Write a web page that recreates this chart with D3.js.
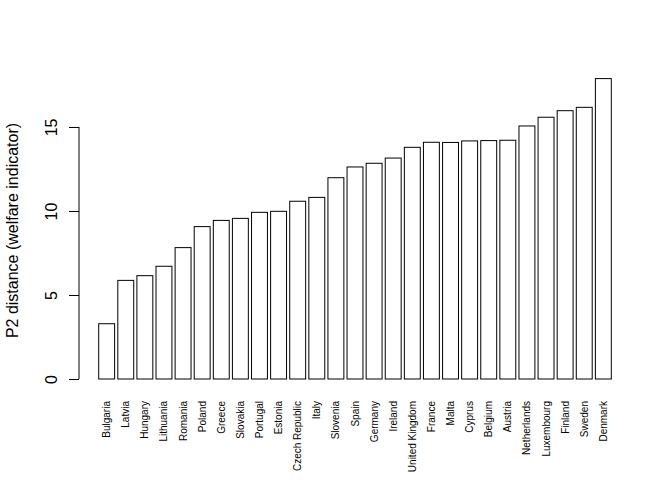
<!DOCTYPE html>
<html>
<head>
<meta charset="utf-8">
<script src="https://cdn.jsdelivr.net/npm/d3@7"></script>
<style>
  body { margin: 0; background: #fff; }
  text { font-family: "Liberation Sans", Arial, Helvetica, sans-serif; }
</style>
</head>
<body>
<script>
// countries, sorted by the indicator
var countries = ["Bulgaria", "Latvia", "Hungary", "Lithuania", "Romania", "Poland",
  "Greece", "Slovakia", "Portugal", "Estonia", "Czech Republic", "Italy", "Slovenia",
  "Spain", "Germany", "Ireland", "United Kingdom", "France", "Malta", "Cyprus",
  "Belgium", "Austria", "Netherlands", "Luxembourg", "Finland", "Sweden", "Denmark"];

var p2 = [3.29, 5.87, 6.15, 6.71, 7.82, 9.07, 9.44, 9.56, 9.92, 9.98, 10.58, 10.81, 11.98,
  12.62, 12.84, 13.15, 13.79, 14.09, 14.08, 14.17, 14.19, 14.21, 15.06, 15.58, 15.97, 16.17, 17.88];

var yTicks = [0, 5, 10, 15];
var yTitle = "P2 distance (welfare indicator)";

var svg = d3.select("body")
  .append("svg")
  .attr("width", 672)
  .attr("height", 480);

var x = d3.scaleBand()
  .domain(countries)
  .range([98.7, 611.3])
  .paddingInner(0.2 / 1.2)
  .paddingOuter(0);

var y = d3.scaleLinear()
  .domain([0, 18.6])
  .range([379, 66.5]);

// bars
svg.selectAll("rect.bar")
  .data(countries)
  .enter()
  .append("rect")
  .attr("class", "bar")
  .attr("x", function(d) { return x(d); })
  .attr("y", function(d, i) { return y(p2[i]); })
  .attr("width", x.bandwidth())
  .attr("height", function(d, i) { return y(0) - y(p2[i]); })
  .attr("fill", "#fff")
  .attr("stroke", "#000")
  .attr("stroke-width", 1);

// y axis
var yAxis = svg.append("g")
  .attr("transform", "translate(79,0)")
  .call(d3.axisLeft(y).tickValues(yTicks).tickSize(10).tickSizeOuter(0));

yAxis.select(".domain").remove();
yAxis.append("line")
  .attr("x1", 0).attr("x2", 0)
  .attr("y1", y(0)).attr("y2", y(15))
  .attr("stroke", "#000");
yAxis.selectAll(".tick line").attr("stroke", "#000");
yAxis.selectAll(".tick text")
  .attr("x", null)
  .attr("dy", null)
  .attr("transform", "translate(-22.5,0) rotate(-90)")
  .attr("text-anchor", "middle")
  .attr("font-size", "16px")
  .attr("font-family", null)
  .attr("fill", "#000");

// country labels
var xAxis = svg.append("g")
  .attr("transform", "translate(0,401)")
  .call(d3.axisBottom(x).tickSize(0));

xAxis.select(".domain").remove();
xAxis.selectAll(".tick text")
  .attr("y", 0)
  .attr("dy", "0.35em")
  .attr("transform", "rotate(-90)")
  .attr("text-anchor", "end")
  .attr("font-size", "10px")
  .attr("font-family", null)
  .attr("fill", "#000");

// axis title
svg.append("text")
  .attr("transform", "translate(17.5,230.5) rotate(-90)")
  .attr("text-anchor", "middle")
  .attr("font-size", "16px")
  .text(yTitle);
</script>
</body>
</html>
